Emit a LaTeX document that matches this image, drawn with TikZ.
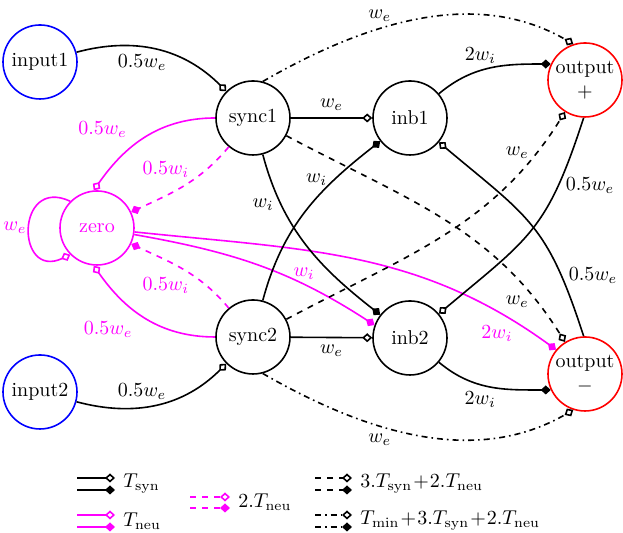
\documentclass[tikz,border=0pt]{standalone}
\usepackage{amsmath}
\usepackage{tikz}
\usetikzlibrary{arrows.meta,positioning,calc}

\definecolor{neuc}{RGB}{255,0,255}

\begin{document}
\begin{tikzpicture}[
    x=0.5pt, y=0.5pt,
    neuron/.style={circle, draw, thick, minimum size=37pt, inner sep=0pt, align=center},
    inputn/.style={neuron, draw=blue},
    outputn/.style={neuron, draw=red},
    zeron/.style={neuron, draw=neuc, text=neuc},
    syn/.style={thick},
    neu/.style={thick, neuc},
    exc/.style={-{Diamond[fill=white, length=5pt, width=4.5pt]}},
    inh/.style={-{Diamond[length=5pt, width=4.5pt]}},
    legtext/.style={anchor=west, inner sep=0pt}
]
    \useasboundingbox (0,0) rectangle (623,533);

    % Inputs
    \node[inputn] (input1) at (40,471) {input1};
    \node[inputn] (input2) at (40,141) {input2};

    % Synchronisers and zero neuron
    \node[neuron] (sync1) at (253,415) {sync1};
    \node[neuron] (sync2) at (253,196) {sync2};
    \node[zeron] (zero) at (97,305) {zero};

    % Inhibition neurons
    \node[neuron] (inb1) at (410,415) {inb1};
    \node[neuron] (inb2) at (410,195) {inb2};

    % Outputs
    \node[outputn] (outp) at (585,453) {output\\$+$};
    \node[outputn] (outm) at (585,159) {output\\$-$};

    % Input connections
    \draw[syn, exc] (input1) to[out=15, in=135] node[pos=0.4, below] {$0.5w_e$} (sync1);
    \draw[syn, exc] (input2) to[out=-15, in=-135] node[pos=0.4, above] {$0.5w_e$} (sync2);

    % Connections to zero
    \draw[neu, exc] (sync1) to[out=180, in=55] node[pos=0.6, above left] {$0.5w_e$} (zero.95);
    \draw[neu, dashed, inh] (sync1) to[out=230, in=25] node[pos=0.42, above left, inner sep=1pt] {$0.5w_i$} (zero);
    \draw[neu, exc] (sync2) to[out=180, in=-55] node[pos=0.55, below left] {$0.5w_e$} (zero.-95);
    \draw[neu, dashed, inh] (sync2) to[out=130, in=-25] node[pos=0.42, below left, inner sep=1pt] {$0.5w_i$} (zero);
    \draw[neu, exc] (zero.135) to[out=155, in=205, looseness=2.9] node[left, inner sep=1pt] {$w_e$} (zero.225);

    % Zero to inhibition and output
    \draw[neu, inh] (zero) to[out=-10, in=147] node[pos=0.7, above, yshift=-1pt] {$w_i$} (inb2.160);
    \draw[neu, inh] (zero) to[out=-6, in=144] node[pos=0.9, below left, inner sep=1pt] {$2w_i$} (outm.140);

    % Sync to inhibition
    \draw[syn, exc] (sync1) -- node[above] {$w_e$} (inb1);
    \draw[syn, exc] (sync2) -- node[below] {$w_e$} (inb2);
    \draw[syn, inh] (sync1) to[out=-75, in=142] node[pos=0.25, left] {$w_i$} (inb2);
    \draw[syn, inh] (sync2) to[out=75, in=-142] node[pos=0.72, left] {$w_i$} (inb1);

    % Sync to outputs
    \draw[syn, dashed, exc] (sync1) to[out=-28, in=122] node[pos=0.87, left] {$w_e$} (outm);
    \draw[syn, dashed, exc] (sync2) to[out=28, in=-122] node[pos=0.87, left] {$w_e$} (outp);
    \draw[syn, dash dot, exc] (sync1.75) to[out=30, in=150, out looseness=1.2, in looseness=0.8] node[pos=0.33, above] {$w_e$} (outp.108);
    \draw[syn, dash dot, exc] (sync2.-75) to[out=-30, in=-150, out looseness=1.2, in looseness=0.8] node[pos=0.33, below] {$w_e$} (outm.-108);

    % Inhibition to outputs
    \draw[syn, inh] (inb1) to[out=40, in=180] node[pos=0.4, above] {$2w_i$} (outp.155);
    \draw[syn, inh] (inb2) to[out=-40, in=180] node[pos=0.4, below] {$2w_i$} (outm.-155);

    % Outputs back to inhibition
    \draw[syn, exc] (outm.92) to[out=108, in=-40, looseness=1.25] node[pos=0.22, right] {$0.5w_e$} (inb1);
    \draw[syn, exc] (outp.-92) to[out=-108, in=40, looseness=1.25] node[pos=0.25, right] {$0.5w_e$} (inb2);

    % Legend
    \node[legtext] (lsyn) at (123,49) {$T_{\mathrm{syn}}$};
    \node[legtext] (lneu) at (123,12) {$T_{\mathrm{neu}}$};
    \node[legtext] (ltwo) at (238,31) {$2.T_{\mathrm{neu}}$};
    \node[legtext] (lthree) at (360,49) {$3.T_{\mathrm{syn}}\!+\!2.T_{\mathrm{neu}}$};
    \node[legtext] (lmin) at (360,12) {$T_{\min}\!+\!3.T_{\mathrm{syn}}\!+\!2.T_{\mathrm{neu}}$};

    \coordinate (syna) at (77,55);  \coordinate (synb) at (77,43);
    \coordinate (neua) at (77,18);  \coordinate (neub) at (77,6);
    \coordinate (twoa) at (190,36); \coordinate (twob) at (190,25);
    \coordinate (threea) at (315,55); \coordinate (threeb) at (315,43);
    \coordinate (mina) at (315,18); \coordinate (minb) at (315,6);

    \draw[syn, exc, shorten >=4pt] (syna) -- (syna -| lsyn.west);
    \draw[syn, inh, shorten >=4pt] (synb) -- (synb -| lsyn.west);
    \draw[neu, exc, shorten >=4pt] (neua) -- (neua -| lneu.west);
    \draw[neu, inh, shorten >=4pt] (neub) -- (neub -| lneu.west);
    \draw[neu, dashed, exc, shorten >=4pt] (twoa) -- (twoa -| ltwo.west);
    \draw[neu, dashed, inh, shorten >=4pt] (twob) -- (twob -| ltwo.west);
    \draw[syn, dashed, exc, shorten >=4pt] (threea) -- (threea -| lthree.west);
    \draw[syn, dashed, inh, shorten >=4pt] (threeb) -- (threeb -| lthree.west);
    \draw[syn, dash dot, exc, shorten >=4pt] (mina) -- (mina -| lmin.west);
    \draw[syn, dash dot, inh, shorten >=4pt] (minb) -- (minb -| lmin.west);
\end{tikzpicture}
\end{document}
